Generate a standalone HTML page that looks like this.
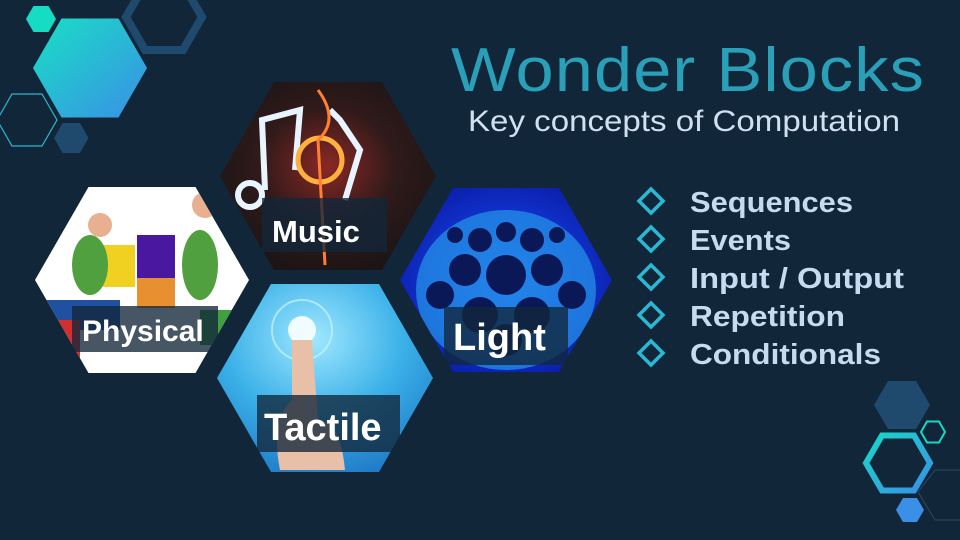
<!DOCTYPE html>
<html><head><meta charset="utf-8"><style>
html,body{margin:0;padding:0;background:#12263a;}
svg{display:block}
</style></head><body>
<svg width="960" height="540" viewBox="0 0 960 540" xmlns="http://www.w3.org/2000/svg">
<defs>
<linearGradient id="tg" x1="0" y1="0" x2="1" y2="1"><stop offset="0" stop-color="#18e0c4"/><stop offset="1" stop-color="#3a8fe6"/></linearGradient>
<linearGradient id="tg2" x1="0" y1="0" x2="1" y2="1"><stop offset="0" stop-color="#18d8c8"/><stop offset="1" stop-color="#3a8fe6"/></linearGradient>
<radialGradient id="music" cx="0.5" cy="0.45" r="0.6"><stop offset="0" stop-color="#8a2824"/><stop offset="0.5" stop-color="#301a1a"/><stop offset="1" stop-color="#181414"/></radialGradient>
<radialGradient id="light" cx="0.5" cy="0.5" r="0.6"><stop offset="0" stop-color="#1a50e0"/><stop offset="0.6" stop-color="#1030c8"/><stop offset="1" stop-color="#0818a0"/></radialGradient>
<radialGradient id="tact" cx="0.45" cy="0.3" r="0.8"><stop offset="0" stop-color="#a0e8ff"/><stop offset="0.5" stop-color="#3ab0e8"/><stop offset="1" stop-color="#1a70c0"/></radialGradient>
<clipPath id="cPhys"><polygon points="35,280 88.5,187 195.5,187 249,280 195.5,373 88.5,373"/></clipPath>
<clipPath id="cMus"><polygon points="220,176 274,82 382,82 436,176 382,270 274,270"/></clipPath>
<clipPath id="cLight"><polygon points="400,280 453,188 559,188 612,280 559,372 453,372"/></clipPath>
<clipPath id="cTact"><polygon points="217,378 271,284 379,284 433,378 379,472 271,472"/></clipPath>
</defs>
<rect width="960" height="540" fill="#12263a"/>
<polygon points="26,19 33.5,6 48.5,6 56,19 48.5,32 33.5,32" fill="#16dcc4"/>
<polygon points="33,68 61.5,18.5 118.5,18.5 147,68 118.5,117.5 61.5,117.5" fill="url(#tg)"/>
<polygon points="126,17 145,-16 183,-16 202,17 183,50 145,50" fill="none" stroke="#1f4a6e" stroke-width="8"/>
<polygon points="-3,120 12,94 42,94 57,120 42,146 12,146" fill="none" stroke="#2bb8c8" stroke-width="1.2"/>
<polygon points="54,138 62.5,123 80,123 88.5,138 80,153 62.5,153" fill="#1f4a6e"/>
<polygon points="874,405 888,381 916,381 930,405 916,429 888,429" fill="#1f4a6e"/>
<polygon points="921,432 927,421.5 939,421.5 945,432 939,442.5 927,442.5" fill="none" stroke="#18d8c4" stroke-width="2"/>
<polygon points="866,463 882,435.5 914,435.5 930,463 914,490.5 882,490.5" fill="none" stroke="url(#tg2)" stroke-width="6"/>
<polygon points="896,510 903,498 917,498 924,510 917,522 903,522" fill="#3a8fe6"/>
<polyline points="960,470 935,470 918,492 935,520 960,520" fill="none" stroke="#2a4a64" stroke-width="1"/>
<g clip-path="url(#cPhys)">
<rect x="30" y="180" width="225" height="200" fill="#ffffff"/>
<rect x="40" y="300" width="80" height="30" fill="#2050a0"/>
<rect x="40" y="320" width="40" height="50" fill="#d03030"/>
<rect x="200" y="310" width="40" height="35" fill="#40a040"/>
<rect x="137" y="235" width="38" height="45" fill="#4a18a0"/>
<rect x="137" y="278" width="38" height="30" fill="#e89030"/>
<rect x="103" y="245" width="32" height="42" fill="#f0d020"/>
<ellipse cx="90" cy="265" rx="18" ry="30" fill="#50a040"/>
<circle cx="100" cy="225" r="12" fill="#e8b090"/>
<ellipse cx="200" cy="265" rx="18" ry="35" fill="#50a040"/>
<circle cx="205" cy="205" r="13" fill="#e8b090"/>
</g>
<g clip-path="url(#cMus)">
<rect x="215" y="78" width="225" height="196" fill="url(#music)"/>
<path d="M265,190 L262,120 L300,110 L295,170" fill="none" stroke="#e8f4ff" stroke-width="6"/>
<path d="M330,110 L340,120 L360,150 L345,200" fill="none" stroke="#e8f4ff" stroke-width="6"/>
<circle cx="320" cy="160" r="22" fill="none" stroke="#ffb040" stroke-width="5"/>
<path d="M318,90 Q340,120 318,140 L325,265" fill="none" stroke="#ff8030" stroke-width="3"/>
<circle cx="250" cy="195" r="12" fill="none" stroke="#e8f4ff" stroke-width="6"/>
</g>
<g clip-path="url(#cLight)">
<rect x="395" y="183" width="222" height="194" fill="url(#light)"/>
<ellipse cx="506" cy="290" rx="90" ry="80" fill="#28a8f0" opacity="0.6"/>
<g fill="#0a1858">
<circle cx="506" cy="275" r="20"/><circle cx="465" cy="270" r="16"/><circle cx="547" cy="270" r="16"/>
<circle cx="480" cy="240" r="12"/><circle cx="532" cy="240" r="12"/><circle cx="506" cy="232" r="10"/>
<circle cx="440" cy="295" r="14"/><circle cx="572" cy="295" r="14"/><circle cx="480" cy="315" r="18"/><circle cx="532" cy="315" r="18"/>
<circle cx="506" cy="340" r="16"/><circle cx="455" cy="235" r="8"/><circle cx="557" cy="235" r="8"/>
</g>
</g>
<g clip-path="url(#cTact)">
<rect x="212" y="280" width="226" height="196" fill="url(#tact)"/>
<circle cx="302" cy="330" r="30" fill="none" stroke="#c8f4ff" stroke-width="2" opacity="0.7"/>
<circle cx="302" cy="330" r="14" fill="#f0fcff"/>
<path d="M292,340 L312,340 L318,420 Q340,420 345,470 L280,470 Q270,420 292,400 Z" fill="#e8c0a8"/>
</g>
<g fill="#12263a" opacity="0.78">
<rect x="262" y="198" width="125" height="54"/>
<rect x="72" y="306" width="146" height="46"/>
<rect x="444" y="307" width="124" height="58"/>
<rect x="257" y="395" width="143" height="57"/>
</g>
<g font-family="'Liberation Sans',sans-serif" font-weight="bold" fill="#ffffff">
<text x="272" y="242" font-size="31">Music</text>
<text x="82" y="341" font-size="30">Physical</text>
<text x="453" y="350" font-size="38">Light</text>
<text x="264" y="440" font-size="38">Tactile</text>
</g>
<text x="451" y="91" font-family="'Liberation Sans',sans-serif" font-size="62" fill="#2a9fb8" textLength="474" lengthAdjust="spacingAndGlyphs" letter-spacing="1">Wonder Blocks</text>
<text x="468" y="131" font-family="'Liberation Sans',sans-serif" font-size="30" fill="#d0e0f0" textLength="432" lengthAdjust="spacingAndGlyphs">Key concepts of Computation</text>
<g fill="none" stroke="#2ab8d4" stroke-width="3.5">
<polygon points="651,189 663,201 651,213 639,201"/>
<polygon points="651,227 663,239 651,251 639,239"/>
<polygon points="651,265 663,277 651,289 639,277"/>
<polygon points="651,303 663,315 651,327 639,315"/>
<polygon points="651,341 663,353 651,365 639,353"/>
</g>
<g font-family="'Liberation Sans',sans-serif" font-weight="bold" font-size="29" fill="#c6daf0">
<text x="690" y="212" textLength="163" lengthAdjust="spacingAndGlyphs">Sequences</text>
<text x="690" y="250" textLength="101" lengthAdjust="spacingAndGlyphs">Events</text>
<text x="690" y="288" textLength="214" lengthAdjust="spacingAndGlyphs">Input / Output</text>
<text x="690" y="326" textLength="155" lengthAdjust="spacingAndGlyphs">Repetition</text>
<text x="690" y="364" textLength="191" lengthAdjust="spacingAndGlyphs">Conditionals</text>
</g>
</svg>
</body></html>
